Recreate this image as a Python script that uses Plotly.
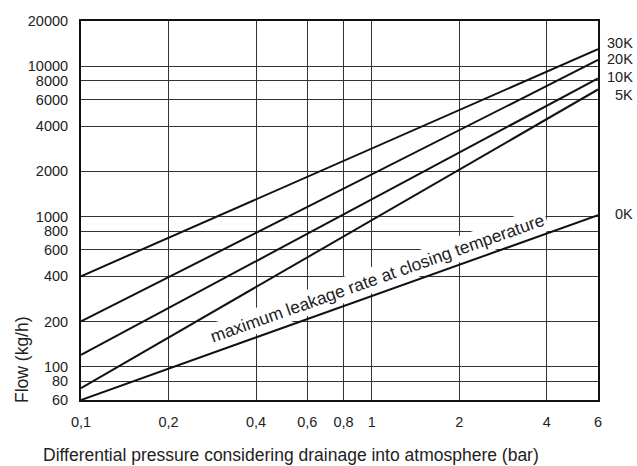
import plotly.graph_objects as go

# Data
pressure = [0.1, 6]
series_names = ["30K", "20K", "10K", "5K", "0K"]
flow_30k = [400, 13000]
flow_20k = [200, 11000]
flow_10k = [120, 8300]
flow_5k = [72, 7000]
flow_0k = [60, 1020]

x_tickvals = [0.1, 0.2, 0.4, 0.6, 0.8, 1, 2, 4, 6]
x_ticktext = ["0,1", "0,2", "0,4", "0,6", "0,8", "1", "2", "4", "6"]
y_tickvals = [60, 80, 100, 200, 400, 600, 800, 1000, 2000, 4000, 6000, 8000, 10000, 20000]
y_ticktext = [str(v) for v in y_tickvals]

FONT = "Liberation Sans, Arial, sans-serif"

fig = go.Figure()
for name, ys in zip(series_names, [flow_30k, flow_20k, flow_10k, flow_5k, flow_0k]):
    fig.add_trace(go.Scatter(x=pressure, y=ys, mode="lines", name=name,
                             line=dict(color="#111111", width=2), showlegend=False,
                             hoverinfo="skip"))

# series labels at the right
label_y = {"30K": 0.942, "20K": 0.899, "10K": 0.853, "5K": 0.806, "0K": 0.492}
for name in series_names:
    fig.add_annotation(text=name, xref="paper", yref="paper", x=1.0716, y=label_y[name],
                       xanchor="right", yanchor="middle", showarrow=False,
                       font=dict(family=FONT, size=14.5, color="#222"))

# rotated caption
fig.add_annotation(text="maximum leakage rate at closing temperature",
                   xref="paper", yref="paper", x=0.574, y=0.321,
                   xanchor="center", yanchor="middle", showarrow=False,
                   textangle=-19.5, bgcolor="white", borderpad=2,
                   font=dict(family=FONT, size=17.4, color="#222"))

# axis titles
fig.add_annotation(text="Flow (kg/h)", xref="paper", yref="paper",
                   x=(22 - 81) / 517, y=(400 - 360) / 379, xanchor="center", yanchor="middle",
                   textangle=-90, showarrow=False,
                   font=dict(family=FONT, size=17.5, color="#222"))
fig.add_annotation(text="Differential pressure considering drainage into atmosphere (bar)",
                   xref="paper", yref="paper",
                   x=(290.5 - 81) / 517, y=(400 - 455) / 379, xanchor="center", yanchor="middle",
                   showarrow=False,
                   font=dict(family=FONT, size=17.5, color="#222"))

fig.update_xaxes(type="log", range=[-1, 0.77815125], tickvals=x_tickvals, ticktext=x_ticktext,
                 showgrid=True, gridcolor="#333", gridwidth=1, zeroline=False,
                 showline=True, linecolor="#111", linewidth=2, mirror=True,
                 ticks="", ticklabelstandoff=8, automargin=False,
                 tickfont=dict(family=FONT, size=14.5, color="#222"))
fig.update_yaxes(type="log", range=[1.77815125, 4.30103], tickvals=y_tickvals, ticktext=y_ticktext,
                 showgrid=True, gridcolor="#333", gridwidth=1, zeroline=False,
                 showline=True, linecolor="#111", linewidth=2, mirror=True,
                 ticks="", ticklabelstandoff=8, automargin=False,
                 tickfont=dict(family=FONT, size=14.5, color="#222"))

fig.update_layout(width=637, height=466, margin=dict(l=81, r=39, t=21, b=66, autoexpand=False),
                  plot_bgcolor="white", paper_bgcolor="white", showlegend=False)

fig.write_html("out.html", config={"displayModeBar": False},
               post_script="document.body.style.margin='0';document.body.style.overflow='hidden';")
